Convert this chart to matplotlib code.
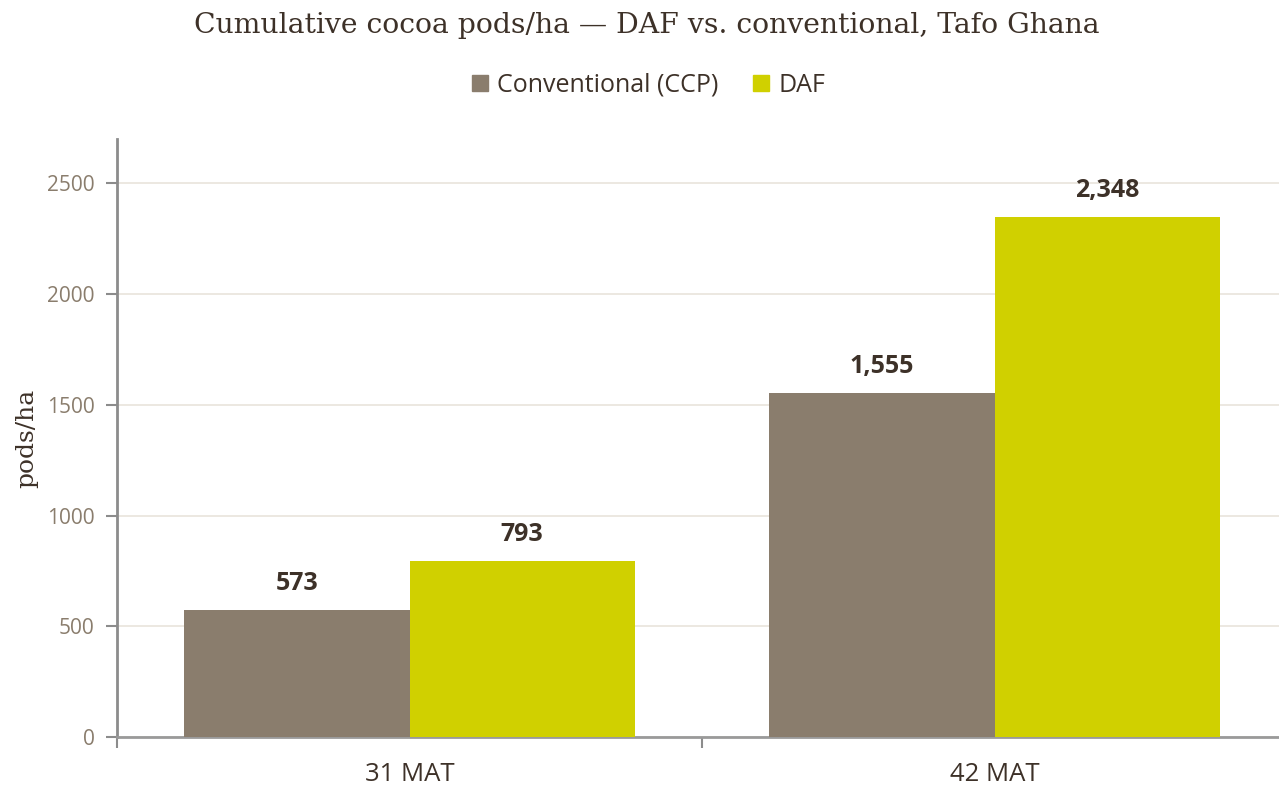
import numpy as np
import matplotlib.pyplot as plt
from matplotlib.patches import Patch

periods = ["31 MAT", "42 MAT"]
series_names = ["Conventional (CCP)", "DAF"]
ccp_pods = [573, 1555]
daf_pods = [793, 2348]

colors = ["#8a7d6d", "#d0d000"]
dark = "#3d3128"

fig = plt.figure(figsize=(12.79, 7.89), dpi=100)
ax = fig.add_axes([117 / 1279, 52 / 789, 1170 / 1279, 598 / 789])

x = np.arange(len(periods))
w = 0.385
bars1 = ax.bar(x - w / 2, ccp_pods, w, color=colors[0], zorder=3)
bars2 = ax.bar(x + w / 2, daf_pods, w, color=colors[1], zorder=3)

# value labels above bars
for bars in (bars1, bars2):
    for b in bars:
        h = b.get_height()
        ax.annotate(f"{h:,.0f}", (b.get_x() + b.get_width() / 2, h),
                    xytext=(0, 19), textcoords="offset points",
                    ha="center", va="center", fontsize=18, fontweight="bold",
                    color=dark, family="Open Sans")

ax.set_xlim(-0.5, 1.5)
ax.set_ylim(0, 2700)
ax.set_yticks([0, 500, 1000, 1500, 2000, 2500])
ax.yaxis.grid(True, color="#e9e4db", linewidth=1.2, zorder=0)
ax.set_axisbelow(True)

# category ticks sit on the group boundaries
ax.set_xticks([-0.5, 0.5, 1.5])
ax.set_xticklabels([])
ax.set_xticks(x, minor=True)
ax.set_xticklabels(periods, minor=True)
ax.tick_params(axis="x", which="major", length=8, width=1.5, color="#8c8c8c", direction="out")
ax.tick_params(axis="x", which="minor", length=0, pad=18, labelsize=18.5, labelcolor=dark)
ax.tick_params(axis="y", length=8, width=1.5, color="#8c8c8c", labelsize=15,
               labelcolor="#8a7d6d", pad=8)
for lbl in ax.get_xticklabels(minor=True) + ax.get_yticklabels():
    lbl.set_family("Open Sans")

for s in ["top", "right"]:
    ax.spines[s].set_visible(False)
ax.spines["left"].set_color("#8c8c8c")
ax.spines["left"].set_linewidth(2)
ax.spines["bottom"].set_color("#9a9a9a")
ax.spines["bottom"].set_linewidth(2)

ax.set_ylabel("pods/ha", family="DejaVu Serif", fontsize=18, color=dark, labelpad=6)

fig.text(0.506, 0.968, "Cumulative cocoa pods/ha \u2014 DAF vs. conventional, Tafo Ghana",
         ha="center", va="center", family="DejaVu Serif", fontsize=20.3, color=dark)

handles = [Patch(color=c) for c in colors]
fig.legend(handles, series_names, loc="center", bbox_to_anchor=(0.507, 0.892), ncol=2,
           frameon=False, prop={"family": "Open Sans", "size": 18},
           labelcolor=dark, handlelength=0.65, handleheight=0.65, handletextpad=0.35,
           columnspacing=1.4)

fig.savefig("out.png", dpi=100)
